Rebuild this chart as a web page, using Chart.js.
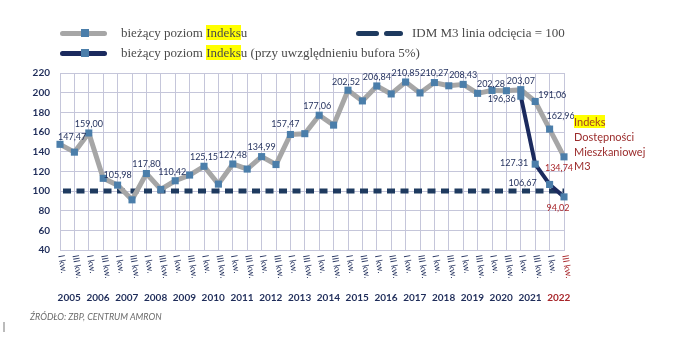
<!DOCTYPE html>
<html lang="pl">
<head>
<meta charset="utf-8">
<title>Indeks Dostępności Mieszkaniowej M3</title>
<script src="https://cdn.jsdelivr.net/npm/chart.js@4.4.1/dist/chart.umd.min.js"></script>
<style>
  html, body { margin: 0; padding: 0; background: #fff; }
  #wrap { position: relative; width: 677px; height: 339px; overflow: hidden; }
  #wykres { position: absolute; left: 0; top: 0; }
  .leg { position: absolute; font: 13px "Liberation Serif", serif; color: #4a4a4a; white-space: nowrap; line-height: 16px; }
  .hl { background: #ffff00; }
  .pasek { position: absolute; height: 5px; border-radius: 3px; }
  .kwadrat { position: absolute; width: 8px; height: 8px; background: #4b7eaa; }
  .opis { position: absolute; left: 574px; font: 11px Lato, sans-serif; color: #9b2c2c; line-height: 14px; white-space: nowrap; }
  .zrodlo { position: absolute; left: 30px; top: 311px; font: italic 9px Lato, sans-serif; color: #6b6b6b; white-space: nowrap; }
</style>
</head>
<body>
<div id="wrap">
  <canvas id="wykres" width="677" height="339"></canvas>

  <!-- legenda -->
  <div class="pasek" style="left:60px; top:31px; width:47px; background:#a6a6a6;"></div>
  <div class="kwadrat" style="left:81px; top:29px;"></div>
  <div class="leg" style="left:121px; top:25px;">bieżący poziom <span class="hl">Indeks</span>u</div>

  <div class="pasek" style="left:60px; top:51px; width:47px; background:#1b2a5e;"></div>
  <div class="kwadrat" style="left:81px; top:49px;"></div>
  <div class="leg" style="left:121px; top:45px;">bieżący poziom <span class="hl">Indeks</span>u (przy uwzględnieniu bufora 5%)</div>

  <div class="pasek" style="left:356px; top:31px; width:23px; background:#1e3a5f;"></div>
  <div class="pasek" style="left:384px; top:31px; width:19px; background:#1e3a5f;"></div>
  <div class="leg" style="left:412px; top:25px;">IDM M3 linia odcięcia = 100</div>

  <!-- opis serii po prawej -->
  <div class="opis" style="top:115px;"><span class="hl" style="color:#a3401f;">Indeks</span></div>
  <div class="opis" style="top:130px;">Dostępności</div>
  <div class="opis" style="top:145px;">Mieszkaniowej</div>
  <div class="opis" style="top:159px;">M3</div>

  <div class="zrodlo">ŹRÓDŁO: ZBP, CENTRUM AMRON</div>
  <div style="position:absolute; left:3px; top:322px; width:2px; height:10px; background:#bbb;"></div>
</div>

<script>
// lata i półrocza na osi X
const lata = [2005, 2006, 2007, 2008, 2009, 2010, 2011, 2012, 2013, 2014, 2015, 2016, 2017, 2018, 2019, 2020, 2021, 2022];
const polrocza = ['I kw.', 'III kw.'];

// bieżący poziom Indeksu
const indeks = [147.47, 139.5, 159.00, 112.9, 105.98, 91.0, 117.80, 101.6, 110.42, 116.2,
                125.15, 107.0, 127.48, 122.3, 134.99, 126.9, 157.47, 158.3, 177.06, 167.0,
                202.52, 191.6, 206.84, 198.7, 210.85, 199.7, 210.27, 207.0, 208.43, 199.3,
                202.28, 202.0, 203.07, 191.06, 162.96, 134.74];

// poziom Indeksu z buforem 5% (tylko ostatnie okresy)
const buforOkresy = ['2021 I kw.', '2021 III kw.', '2022 I kw.', '2022 III kw.'];
const buforWartosci = [196.36, 127.31, 106.67, 94.02];

const progOdciecia = 100;
const osY = { min: 40, max: 220, krok: 10, etykietaCo: 20 };

const kategorie = [];
lata.forEach(r => polrocza.forEach(p => kategorie.push(r + ' ' + p)));

const GRANAT = '#1f2d5a';
const CZERWONY = '#a8262b';

const fmt = (v, sep) => v.toFixed(2).replace('.', sep || ',');

// przesunięcia etykiet: [dx, dy, wyrównanie, kolor, separator]
const etykietySzary = {
  0: [-2, -7, 'left'], 4: [0, -10], 8: [-3, -9], 16: [-5, -10], 18: [-2, -9], 20: [-2, -8],
  30: [-1, -6], 33: [3, -6, 'left'], 34: [-3, -13, 'left'], 35: [-5, 11, 'center', CZERWONY]
};
const etykietyBufor = {
  0: [-5, 3, 'right'], 1: [-7, -1, 'right', null, '.'], 2: [-13, -1, 'right'], 3: [-6, 11, 'center', CZERWONY]
};

const wykresPlugin = {
  id: 'idm',
  beforeDatasetsDraw(chart) {
    const { ctx, chartArea, scales } = chart;
    const y = scales.y.getPixelForValue(progOdciecia);
    ctx.save();
    ctx.strokeStyle = '#1e3a5f';
    ctx.lineWidth = 5;
    ctx.setLineDash([8, 5.5]);
    ctx.beginPath();
    ctx.moveTo(chartArea.left + 3, y);
    ctx.lineTo(chartArea.right, y);
    ctx.stroke();
    ctx.restore();
  },
  afterDatasetsDraw(chart) {
    const { ctx, scales } = chart;
    ctx.save();
    ctx.font = '9px Lato, sans-serif';
    ctx.textBaseline = 'middle';

    const rysuj = (el, v, cfg) => {
      const [dx, dy, al, kolor, sep] = cfg || [0, -9];
      ctx.textAlign = al || 'center';
      ctx.fillStyle = kolor || GRANAT;
      ctx.fillText(fmt(v, sep), el.x + dx, el.y + dy);
    };

    const mSzary = chart.getDatasetMeta(1);
    mSzary.data.forEach((el, i) => {
      if (i % 2 === 0 || i >= 33) rysuj(el, indeks[i], etykietySzary[i]);
    });
    const mBufor = chart.getDatasetMeta(0);
    mBufor.data.forEach((el, j) => rysuj(el, buforWartosci[j], etykietyBufor[j]));

    // opisy osi X: półrocza pionowo, lata pod spodem
    const x = scales.x;
    kategorie.forEach((k, i) => {
      const px = x.getPixelForValue(i);
      ctx.save();
      ctx.translate(px + 1, 255);
      ctx.rotate(80 * Math.PI / 180);
      ctx.textAlign = 'left';
      ctx.font = '9px Lato, sans-serif';
      ctx.fillStyle = i === kategorie.length - 1 ? CZERWONY : GRANAT;
      ctx.fillText(polrocza[i % 2], 0, 0);
      ctx.restore();
    });
    ctx.font = 'bold 10px Lato, sans-serif';
    ctx.textAlign = 'center';
    lata.forEach((r, i) => {
      const px = (x.getPixelForValue(2 * i) + x.getPixelForValue(2 * i + 1)) / 2 + 2;
      ctx.fillStyle = i === lata.length - 1 ? CZERWONY : GRANAT;
      ctx.fillText(String(r), px, 298);
    });
    ctx.restore();
  }
};

new Chart(document.getElementById('wykres'), {
  type: 'line',
  data: {
    labels: kategorie,
    datasets: [{
      label: 'bieżący poziom Indeksu (przy uwzględnieniu bufora 5%)',
      data: buforOkresy.map((k, j) => ({ x: k, y: buforWartosci[j] })),
      borderColor: '#1b2a5e',
      borderWidth: 4,
      pointStyle: 'rect',
      pointRadius: 5,
      pointBackgroundColor: '#4b7eaa',
      pointBorderWidth: 0,
      borderJoinStyle: 'round',
      clip: false
    }, {
      label: 'bieżący poziom Indeksu',
      data: indeks,
      borderColor: '#a6a6a6',
      borderWidth: 5,
      pointStyle: 'rect',
      pointRadius: 5,
      pointBackgroundColor: '#4b7eaa',
      pointBorderWidth: 0,
      borderJoinStyle: 'round',
      clip: false
    }]
  },
  options: {
    responsive: false,
    animation: false,
    layout: { padding: { top: 73, right: 113, bottom: 89, left: 0 } },
    plugins: { legend: { display: false }, tooltip: { enabled: false } },
    scales: {
      x: {
        type: 'category',
        offset: false,
        grid: { color: '#c5c6da', lineWidth: 1, drawTicks: false },
        border: { color: '#c5c6da' },
        ticks: { display: false }
      },
      y: {
        min: osY.min,
        max: osY.max,
        afterFit(s) { s.width = 60; },
        grid: { color: '#c5c6da', lineWidth: 1, drawTicks: false },
        border: { color: '#c5c6da' },
        ticks: {
          stepSize: osY.krok,
          padding: 10,
          color: GRANAT,
          font: { family: 'Lato', size: 10, weight: 'bold' },
          callback: v => (v % osY.etykietaCo === 0 ? v : '')
        }
      }
    }
  },
  plugins: [wykresPlugin]
});
</script>
</body>
</html>
